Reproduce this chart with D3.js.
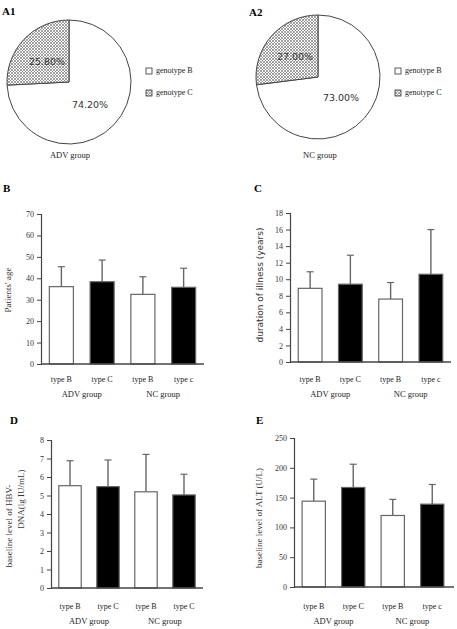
<!DOCTYPE html>
<html><head><meta charset="utf-8">
<script src="https://cdn.jsdelivr.net/npm/d3@7"></script>
<style>body{margin:0;background:#fff}svg{display:block}</style>
</head><body>
<script>
// ---- data ----
const genotypes = ["genotype B", "genotype C"];
const pieA1 = [74.2, 25.8];
const pieA2 = [73.0, 27.0];
const barCats = ["type B", "type C", "type B", "type c"];
const barCatsD = ["type B", "type C", "type B", "type C"];
const groups = ["ADV  group", "NC group"];
const ageMean = [36.1, 38.4, 32.5, 35.8];
const ageSD = [9.3, 10.1, 8.2, 8.9];
const durMean = [8.9, 9.4, 7.6, 10.6];
const durSD = [2.0, 3.5, 2.0, 5.4];
const dnaMean = [5.53, 5.48, 5.2, 5.03];
const dnaSD = [1.35, 1.44, 2.02, 1.12];
const altMean = [144, 167, 120, 139];
const altSD = [37, 39, 27, 33];
const ticksB = [0,10,20,30,40,50,60,70];
const ticksC = [0,2,4,6,8,10,12,14,16,18];
const ticksD = [0,1,2,3,4,5,6,7,8];
const ticksE = [0,50,100,150,200,250];

const serif = "'Liberation Serif','DejaVu Serif',serif";
const sans = "'DejaVu Sans',Verdana,sans-serif";

const svg = d3.select("body").append("svg").attr("width",457).attr("height",629);
const defs = svg.append("defs");
const pat = defs.append("pattern").attr("id","hatch").attr("patternUnits","userSpaceOnUse")
  .attr("width",3).attr("height",3);
pat.append("rect").attr("width",3).attr("height",3).attr("fill","#fff");
pat.append("path").attr("d","M0,0L3,3M3,0L0,3").attr("stroke","#777").attr("stroke-width",0.7);

function pie(cx, cy, r, vals, labelPos, tag, tagX, tagY, group, groupX, legX) {
  const g = svg.append("g");
  const arcs = d3.pie().sort(null)(vals);
  const arc = d3.arc().innerRadius(0).outerRadius(r);
  g.selectAll("path.sl").data(arcs).join("path")
    .attr("transform",`translate(${cx},${cy})`)
    .attr("d",arc).attr("fill",(d,i)=> i===0 ? "#fff" : "url(#hatch)")
    .attr("stroke","#444").attr("stroke-width",1);
  vals.forEach((v,i)=>{
    g.append("text").attr("x",labelPos[i][0]).attr("y",labelPos[i][1])
      .attr("text-anchor","middle").attr("dominant-baseline","middle")
      .attr("font-family",sans).attr("font-size",9.5).attr("fill","#333")
      .text(v.toFixed(2)+"%");
  });
  g.append("text").attr("x",tagX).attr("y",tagY).attr("font-family",serif)
    .attr("font-weight","bold").attr("font-size",11).text(tag);
  g.append("text").attr("x",groupX).attr("y",158).attr("text-anchor","middle")
    .attr("font-family",serif).attr("font-size",8.5).attr("fill","#222").text(group);
  genotypes.forEach((gn,i)=>{
    const y = 71 + i*22;
    g.append("rect").attr("x",legX-3).attr("y",y-3).attr("width",6).attr("height",6)
      .attr("fill", i===0 ? "#fff" : "url(#hatch)").attr("stroke","#333").attr("stroke-width",0.8);
    g.append("text").attr("x",legX+7).attr("y",y).attr("dominant-baseline","middle")
      .attr("font-family",serif).attr("font-size",8).attr("fill","#222").text(gn);
  });
}
pie(69, 82, 62, pieA1, [[90,105],[47,62]], "A1", 2, 15, "ADV  group", 70, 149);
pie(318, 77, 62, pieA2, [[341,98],[295,57]], "A2", 249, 16, "NC group", 320, 398);

function barChart(o) {
  const g = svg.append("g");
  const y = d3.scaleLinear().domain([o.ticks[0], o.ticks[o.ticks.length-1]]).range([o.y0, o.y1]);
  const x = d3.scaleBand().domain(d3.range(4)).range([o.x0, o.x1]).paddingInner(0.41).paddingOuter(0.205);
  const eb = g.selectAll("g.eb").data(o.mean).join("g");
  eb.append("line").attr("x1",(d,i)=>x(i)+x.bandwidth()/2).attr("x2",(d,i)=>x(i)+x.bandwidth()/2)
    .attr("y1",d=>y(d)).attr("y2",(d,i)=>y(d+o.sd[i])).attr("stroke","#666").attr("stroke-width",1.4);
  eb.append("line").attr("x1",(d,i)=>x(i)+x.bandwidth()/2-3.5).attr("x2",(d,i)=>x(i)+x.bandwidth()/2+3.5)
    .attr("y1",(d,i)=>y(d+o.sd[i])).attr("y2",(d,i)=>y(d+o.sd[i])).attr("stroke","#666").attr("stroke-width",1.2);
  g.selectAll("rect.bar").data(o.mean).join("rect")
    .attr("x",(d,i)=>x(i)).attr("width",x.bandwidth())
    .attr("y",d=>y(d)).attr("height",d=>y(0)-y(d))
    .attr("fill",(d,i)=> i%2===0 ? "#fff" : "#000").attr("stroke","#666").attr("stroke-width",1.2);
  const ay = g.append("g").attr("transform",`translate(${o.x0},0)`)
    .call(d3.axisLeft(y).tickValues(o.ticks).tickSize(4).tickPadding(3));
  ay.select(".domain").attr("stroke","#444").attr("stroke-width",1.2);
  ay.selectAll(".tick line").attr("stroke","#444");
  ay.selectAll("text").attr("font-family",serif).attr("font-size",8).attr("fill","#333");
  g.append("line").attr("x1",o.x0).attr("x2",o.xEnd).attr("y1",y(0)).attr("y2",y(0))
    .attr("stroke","#444").attr("stroke-width",1.3);
  o.cats.forEach((c,i)=>{
    g.append("text").attr("x",x(i)+x.bandwidth()/2).attr("y",o.labY).attr("text-anchor","middle")
      .attr("font-family",serif).attr("font-size",8).attr("fill","#222").text(c);
  });
  groups.forEach((gr,k)=>{
    const cx = (x(2*k)+x(2*k+1)+x.bandwidth())/2;
    g.append("text").attr("x",cx).attr("y",o.labY+15).attr("text-anchor","middle")
      .attr("font-family",serif).attr("font-size",8.5).attr("fill","#222").text(gr);
  });
  g.append("text").attr("x",o.tagX).attr("y",o.tagY).attr("font-family",serif)
    .attr("font-weight","bold").attr("font-size",11).text(o.tag);
  o.ylab.forEach((t,k)=>{
    g.append("text").attr("transform",`translate(${o.ylabX[k]},${o.ylabY[k]}) rotate(-90)`)
      .attr("text-anchor","middle").attr("dominant-baseline","middle")
      .attr("font-family",o.ylabFont).attr("font-size",o.ylabSize).attr("fill","#333").text(t);
  });
}

barChart({mean:ageMean, sd:ageSD, ticks:ticksB, cats:barCats, x0:41, x1:204, xEnd:204, y0:364, y1:214,
  labY:382, tag:"B", tagX:3, tagY:192, ylab:["Patients' age"], ylabX:[9], ylabY:[290], ylabFont:serif, ylabSize:9});
barChart({mean:durMean, sd:durSD, ticks:ticksC, cats:barCats, x0:290, x1:451, xEnd:451, y0:362, y1:213,
  labY:382, tag:"C", tagX:254, tagY:192, ylab:["duration of illness (years)"], ylabX:[260], ylabY:[285], ylabFont:sans, ylabSize:9});
barChart({mean:dnaMean, sd:dnaSD, ticks:ticksD, cats:barCatsD, x0:51, x1:203, xEnd:203, y0:588, y1:440,
  labY:609, tag:"D", tagX:10, tagY:424, ylab:["baseline level of HBV-","DNA(lg IU/mL)"], ylabX:[10,22], ylabY:[526,499], ylabFont:serif, ylabSize:9});
barChart({mean:altMean, sd:altSD, ticks:ticksE, cats:barCats, x0:294, x1:452, xEnd:454, y0:587, y1:438,
  labY:609, tag:"E", tagX:256, tagY:424, ylab:["baseline level of ALT (U/L)"], ylabX:[260], ylabY:[518], ylabFont:serif, ylabSize:9});
</script>
</body></html>
